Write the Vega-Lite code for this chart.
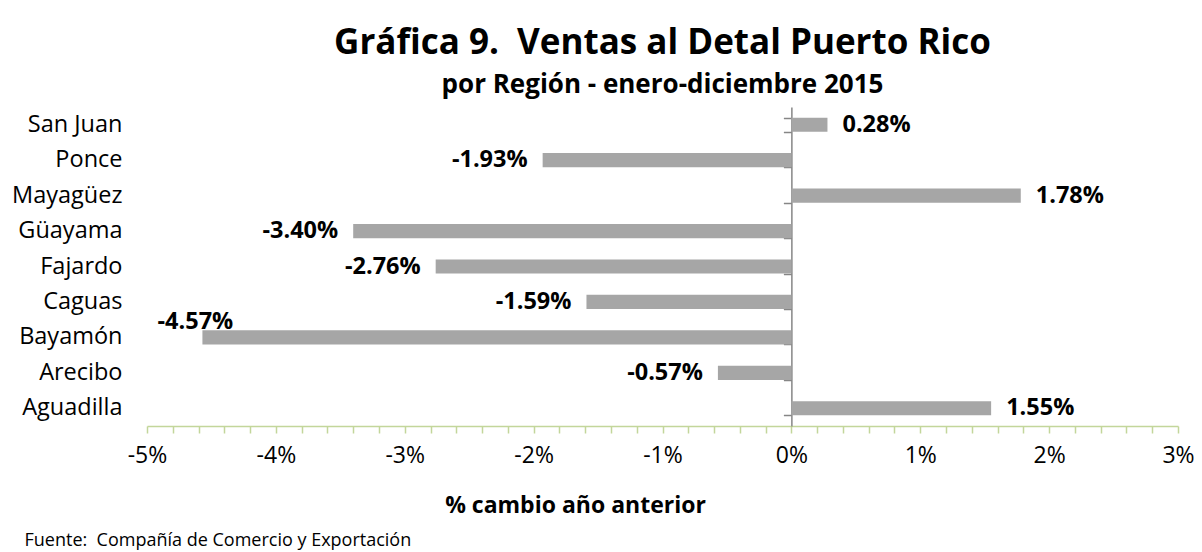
{
  "$schema": "https://vega.github.io/schema/vega-lite/v6.json",
  "width": 1031,
  "height": 319,
  "autosize": {"type": "none"},
  "padding": {"left": 147, "top": 107, "right": 24, "bottom": 126},
  "background": "white",
  "config": {"view": {"stroke": null}, "font": "Open Sans"},
  "title": {
    "text": "Gráfica 9.\u00a0 Ventas al Detal Puerto Rico",
    "subtitle": "por Región - enero-diciembre 2015",
    "anchor": "middle",
    "font": "Open Sans",
    "fontSize": 35,
    "fontWeight": "bold",
    "color": "black",
    "subtitleFont": "Open Sans",
    "subtitleFontSize": 26,
    "subtitleFontWeight": "bold",
    "subtitleColor": "black",
    "subtitlePadding": 11,
    "offset": 9
  },
  "data": {
    "values": [
      {"region": "San Juan", "valor": 0.28},
      {"region": "Ponce", "valor": -1.93},
      {"region": "Mayagüez", "valor": 1.78},
      {"region": "Güayama", "valor": -3.40},
      {"region": "Fajardo", "valor": -2.76},
      {"region": "Caguas", "valor": -1.59},
      {"region": "Bayamón", "valor": -4.57},
      {"region": "Arecibo", "valor": -0.57},
      {"region": "Aguadilla", "valor": 1.55}
    ]
  },
  "transform": [
    {"calculate": "(datum.valor < 0 ? '-' : '') + format(abs(datum.valor), '.2f') + '%'", "as": "etiqueta"}
  ],
  "layer": [
    {
      "mark": {"type": "bar", "color": "#a6a6a6"},
      "encoding": {
        "y": {
          "field": "region", "type": "nominal", "sort": null,
          "scale": {
            "domain": ["San Juan", "Ponce", "Mayagüez", "Güayama", "Fajardo", "Caguas", "Bayamón", "Arecibo", "Aguadilla"],
            "paddingInner": 0.6, "paddingOuter": 0.3
          },
          "axis": {
            "orient": "left", "title": null, "domain": false, "ticks": false, "grid": false,
            "labelPadding": 25, "labelFontSize": 23.5, "labelColor": "black", "labelFont": "Open Sans"
          }
        },
        "x": {
          "field": "valor", "type": "quantitative",
          "scale": {"domain": [-5, 3], "nice": false, "zero": false},
          "axis": {
            "orient": "bottom",
            "values": [-5,-4.8,-4.6,-4.4,-4.2,-4,-3.8,-3.6,-3.4,-3.2,-3,-2.8,-2.6,-2.4,-2.2,-2,-1.8,-1.6,-1.4,-1.2,-1,-0.8,-0.6,-0.4,-0.2,0,0.2,0.4,0.6,0.8,1,1.2,1.4,1.6,1.8,2,2.2,2.4,2.6,2.8,3],
            "labelExpr": "datum.value == round(datum.value) ? datum.value + '%' : ''",
            "labelFontSize": 23, "labelColor": "black", "labelFont": "Open Sans",
            "labelPadding": 11, "labelFlush": false, "labelOverlap": false,
            "tickSize": 7, "tickColor": "#c3d69b", "tickWidth": 1.5,
            "domainColor": "#c3d69b", "domainWidth": 1.5, "grid": false,
            "title": "% cambio año anterior",
            "titleFont": "Open Sans", "titleFontSize": 23, "titleFontWeight": "bold", "titleColor": "black",
            "titleX": 428, "titleY": 86, "titleAlign": "center", "titleBaseline": "alphabetic"
          }
        }
      }
    },
    {
      "transform": [{"filter": "datum.valor >= 0"}],
      "mark": {"type": "text", "align": "left", "baseline": "middle", "dx": 15, "fontWeight": "bold", "fontSize": 23.5, "font": "Open Sans", "color": "black"},
      "encoding": {
        "y": {"field": "region", "type": "nominal", "sort": null, "axis": null},
        "x": {
          "field": "valor", "type": "quantitative",
          "axis": {
            "orient": "top", "domain": false, "ticks": false, "labels": false, "grid": false,
            "title": "Fuente:\u00a0 Compañía de Comercio y Exportación",
            "titleFont": "Open Sans", "titleFontSize": 18, "titleFontWeight": "normal", "titleColor": "black",
            "titleX": -123, "titleY": 438, "titleAlign": "left", "titleBaseline": "alphabetic"
          }
        },
        "text": {"field": "etiqueta"}
      }
    },
    {
      "transform": [{"filter": "datum.valor < 0 && datum.region != 'Bayamón'"}],
      "mark": {"type": "text", "align": "right", "baseline": "middle", "dx": -15, "fontWeight": "bold", "fontSize": 23.5, "font": "Open Sans", "color": "black"},
      "encoding": {
        "y": {
          "field": "region", "type": "nominal", "sort": null,
          "axis": {
            "orient": "right", "offset": -386.625, "title": null, "labels": false, "grid": false,
            "domain": true, "domainColor": "#868686", "domainWidth": 1.5,
            "ticks": true, "tickBand": "extent", "tickSize": -8, "tickColor": "#868686", "tickWidth": 1.5
          }
        },
        "x": {"field": "valor", "type": "quantitative", "axis": null},
        "text": {"field": "etiqueta"}
      }
    },
    {
      "transform": [{"filter": "datum.region == 'Bayamón'"}],
      "mark": {"type": "text", "align": "center", "baseline": "middle", "dx": -7, "dy": -15, "fontWeight": "bold", "fontSize": 23.5, "font": "Open Sans", "color": "black"},
      "encoding": {
        "y": {"field": "region", "type": "nominal", "sort": null, "axis": null},
        "x": {"field": "valor", "type": "quantitative", "axis": null},
        "text": {"field": "etiqueta"}
      }
    }
  ],
  "resolve": {"axis": {"x": "independent", "y": "independent"}}
}
